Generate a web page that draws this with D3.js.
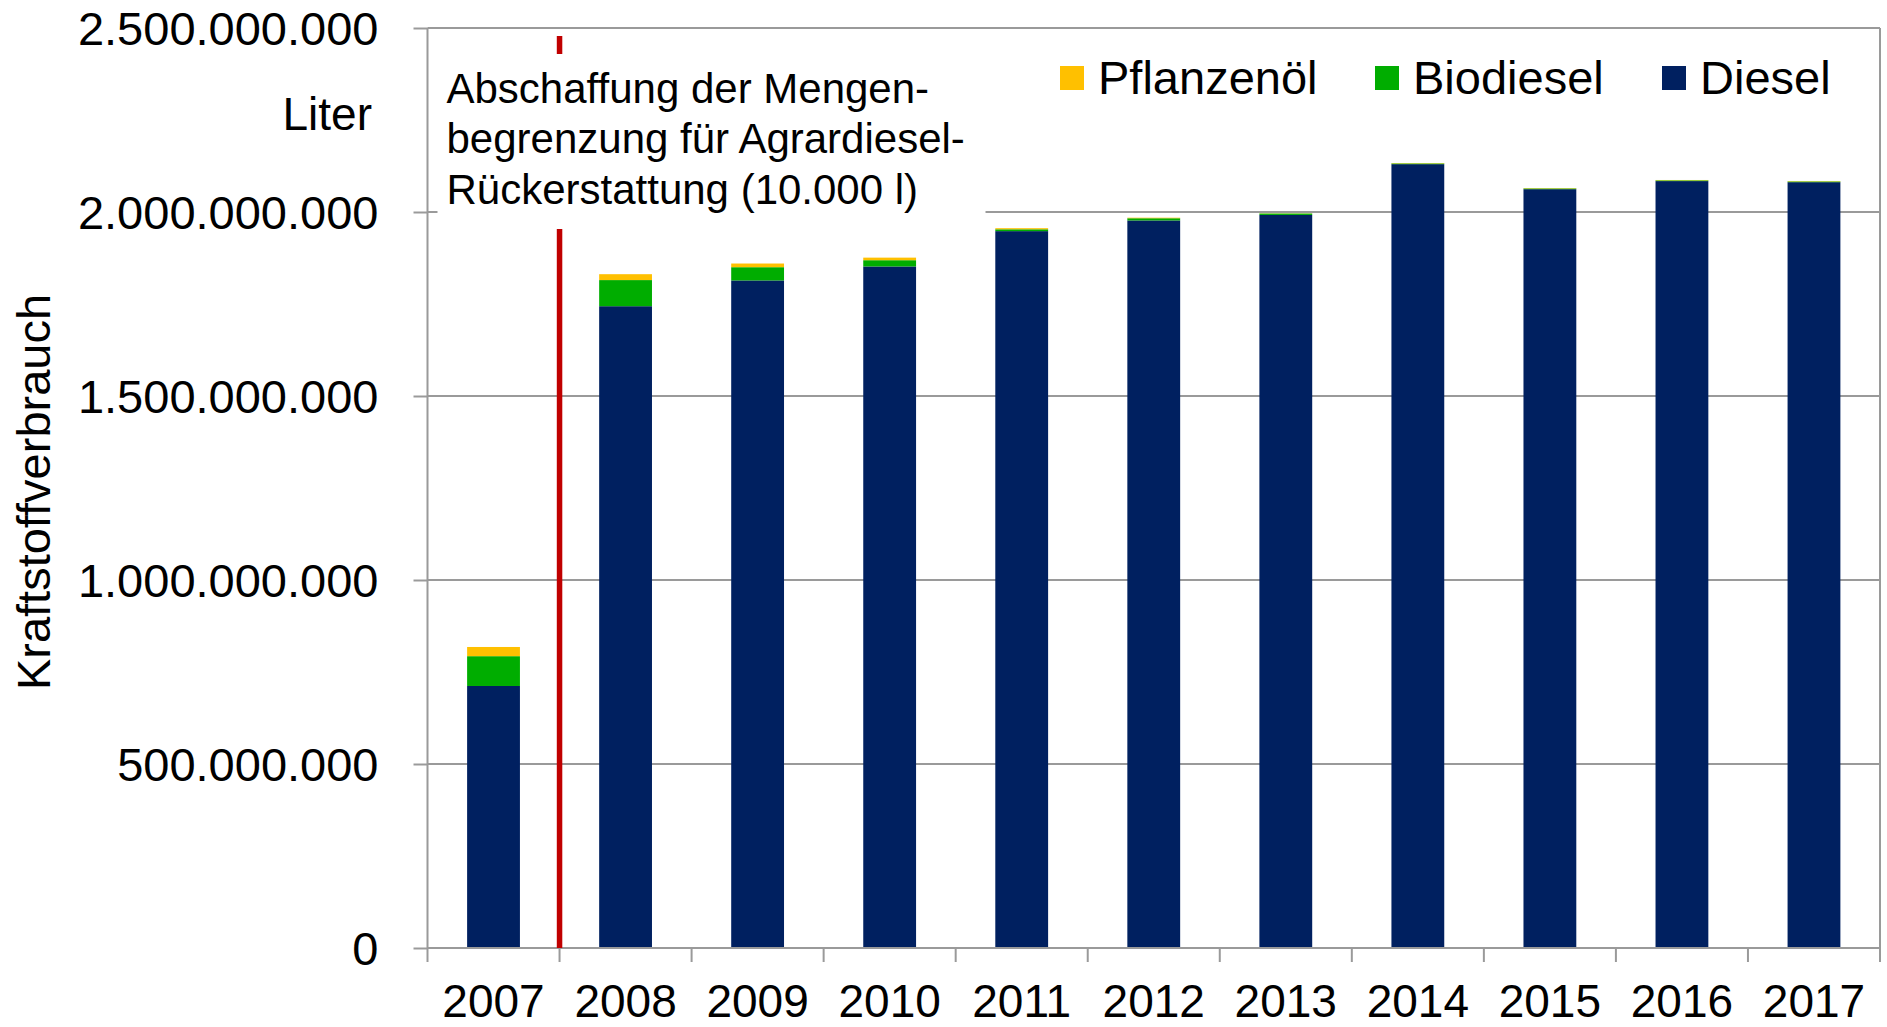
<!DOCTYPE html>
<html>
<head>
	<meta charset="utf-8">
	<title>Kraftstoffverbrauch Landwirtschaft</title>
	<script src="https://d3js.org/d3.v7.min.js"></script>
	<style>
	body {
		margin: 0;
		background: #ffffff;
	}
	svg text {
		font-family: "Liberation Sans", Arial, sans-serif;
		fill: #000000;
	}
	.grid line {
		stroke: #9a9a9a;
		stroke-width: 2;
	}
	.axis path, .axis line {
		stroke: #9a9a9a;
		stroke-width: 2;
	}
	</style>
</head>
<body>
<div class="chartContainer"></div>
<script>
// values in million litres
var years = ["2007","2008","2009","2010","2011","2012","2013","2014","2015","2016","2017"];
var diesel = [712, 1744, 1814, 1852, 1948, 1977, 1992, 2130, 2062, 2084, 2081];
var biodiesel = [81, 71, 36, 17, 5, 6, 4, 2, 2, 2, 2];
var pflanzenoel = [25, 16, 10, 7, 3, 1.5, 0.5, 1, 1, 1, 1];

var seriesNames = ["Diesel", "Biodiesel", "Pflanzenöl"];
var seriesColors = ["#002060", "#00ad00", "#ffc000"];
var legendOrder = ["Pflanzenöl", "Biodiesel", "Diesel"];

var yTicks = [0, 500, 1000, 1500, 2000, 2500];

var note = ["Abschaffung der Mengen-", "begrenzung für Agrardiesel-", "Rückerstattung (10.000 l)"];
var noteYear = "2008";

var totalWidth = 1887, totalHeight = 1027;
var margin = {top: 28, right: 7, bottom: 79, left: 427.5};
var width = totalWidth - margin.left - margin.right;
var height = totalHeight - margin.top - margin.bottom;

var de = d3.formatLocale({decimal: ",", thousands: ".", grouping: [3], currency: ["", " €"]});
var fmt = de.format(",");

var table = years.map(function(y, i) {
	return {year: y, "Diesel": diesel[i], "Biodiesel": biodiesel[i], "Pflanzenöl": pflanzenoel[i]};
});
var stacked = d3.stack().keys(seriesNames)(table);

var svg = d3.select(".chartContainer").append("svg")
	.attr("width", totalWidth)
	.attr("height", totalHeight);

var g = svg.append("g")
	.attr("transform", "translate(" + margin.left + "," + margin.top + ")");

var x = d3.scaleBand()
	.domain(years)
	.range([0, width])
	.paddingInner(0.6)
	.paddingOuter(0.3);

var y = d3.scaleLinear()
	.domain([0, 2500])
	.range([height, 0]);

var color = d3.scaleOrdinal().domain(seriesNames).range(seriesColors);

// gridlines
g.append("g")
	.attr("class", "grid")
	.selectAll("line")
	.data(yTicks.filter(function(d) { return d > 0; }))
	.enter().append("line")
	.attr("x1", 0)
	.attr("x2", width)
	.attr("y1", function(d) { return y(d); })
	.attr("y2", function(d) { return y(d); });

// right border
g.append("line")
	.attr("class", "border")
	.attr("x1", width).attr("x2", width)
	.attr("y1", 0).attr("y2", height)
	.attr("stroke", "#9a9a9a")
	.attr("stroke-width", 2);

// bars
g.selectAll(".layer")
	.data(stacked)
	.enter().append("g")
	.attr("class", "layer")
	.attr("fill", function(d) { return color(d.key); })
	.selectAll("rect")
	.data(function(d) { return d; })
	.enter().append("rect")
	.attr("x", function(d) { return x(d.data.year); })
	.attr("width", x.bandwidth())
	.attr("y", function(d) { return y(d[1]); })
	.attr("height", function(d) { return y(d[0]) - y(d[1]); });

// y axis
var yAxis = d3.axisLeft(y)
	.tickValues(yTicks)
	.tickSize(14)
	.tickPadding(35)
	.tickFormat(function(d) { return fmt(d * 1e6); });

var ya = g.append("g")
	.attr("class", "axis")
	.call(yAxis);
ya.select(".domain").attr("d", "M0," + height + "V0");
ya.selectAll("text")
	.style("font-size", "47px")
	.attr("dy", "0.36em");

// x axis: ticks sit on the category boundaries
var step = x.step();
var bounds = d3.range(years.length + 1).map(function(i) {
	return x(years[0]) + x.bandwidth() / 2 - step / 2 + i * step;
});

var xa = g.append("g")
	.attr("class", "axis")
	.attr("transform", "translate(0," + height + ")");
xa.append("line")
	.attr("x1", 0).attr("x2", width)
	.attr("y1", 0).attr("y2", 0);
xa.selectAll(".btick")
	.data(bounds)
	.enter().append("line")
	.attr("class", "btick")
	.attr("x1", function(d) { return d; })
	.attr("x2", function(d) { return d; })
	.attr("y1", 0)
	.attr("y2", 14);
xa.selectAll(".xlab")
	.data(years)
	.enter().append("text")
	.attr("class", "xlab")
	.attr("x", function(d) { return x(d) + x.bandwidth() / 2; })
	.attr("y", 69)
	.attr("text-anchor", "middle")
	.style("font-size", "46px")
	.text(function(d) { return d; });

// red marker line between 2007 and 2008
var lineX = x(noteYear) + x.bandwidth() / 2 - step / 2;
g.append("line")
	.attr("x1", lineX).attr("x2", lineX)
	.attr("y1", 8).attr("y2", height)
	.attr("stroke", "#c00000")
	.attr("stroke-width", 5.5);

// annotation box (white background hides line + gridline)
g.append("rect")
	.attr("x", 10)
	.attr("y", 26)
	.attr("width", 548)
	.attr("height", 175)
	.attr("fill", "#ffffff");

g.append("text")
	.attr("x", 19)
	.attr("y", 74.5)
	.style("font-size", "42px")
	.selectAll("tspan")
	.data(note)
	.enter().append("tspan")
	.attr("x", 19)
	.attr("dy", function(d, i) { return i === 0 ? 0 : 50.8; })
	.text(function(d) { return d; });

// unit label
svg.append("text")
	.attr("x", 372)
	.attr("y", 130)
	.attr("text-anchor", "end")
	.style("font-size", "46px")
	.text("Liter");

// y axis title
svg.append("text")
	.attr("transform", "translate(50," + (margin.top + height / 2 + 4) + ") rotate(-90)")
	.attr("text-anchor", "middle")
	.style("font-size", "47px")
	.text("Kraftstoffverbrauch");

// legend
var legendX = [1060, 1375, 1662];
var legend = svg.selectAll(".legend")
	.data(legendOrder)
	.enter().append("g")
	.attr("class", "legend")
	.attr("transform", function(d, i) { return "translate(" + legendX[i] + ",66)"; });
legend.append("rect")
	.attr("width", 24)
	.attr("height", 24)
	.attr("fill", function(d) { return color(d); });
legend.append("text")
	.attr("x", 38)
	.attr("y", 27.5)
	.style("font-size", "47px")
	.text(function(d) { return d; });
</script>
</body>
</html>
